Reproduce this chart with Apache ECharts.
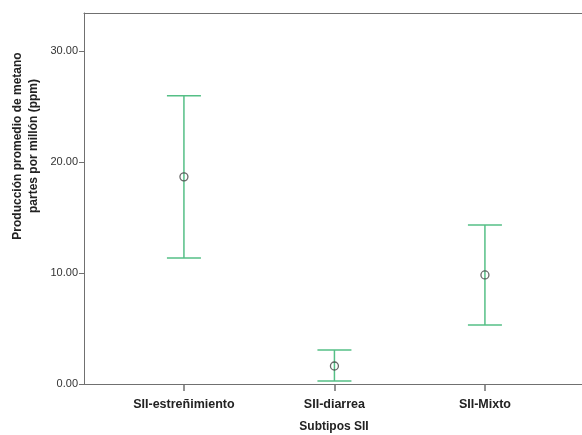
<!DOCTYPE html>
<html>
<head>
<meta charset="utf-8">
<script src="https://cdn.jsdelivr.net/npm/echarts@6/dist/echarts.min.js"></script>
<style>html,body{margin:0;padding:0;background:#fff}#c{width:582px;height:435px}</style>
</head>
<body>
<div id="c"></div>
<script>
var categories = ['SII-estreñimiento', 'SII-diarrea', 'SII-Mixto'];
var means = [18.65, 1.62, 9.82];
var lower = [11.35, 0.27, 5.32];
var upper = [25.95, 3.06, 14.32];
var yTicks = [0, 10, 20, 30];

var chart = echarts.init(document.getElementById('c'));
var idx = categories.map(function (_, i) { return i; });
var barData = idx.map(function (i) { return [i, lower[i], upper[i]]; });
var meanData = idx.map(function (i) { return [i, means[i]]; });
var green = '#55bf86';
var axisCol = '#707070';
var font = 'Liberation Sans, Arial, sans-serif';
var xMin = -0.664, xMax = 2.645;

chart.setOption({
  animation: false,
  grid: { left: 84, top: 13, right: 0, bottom: 51 },
  xAxis: [{
    type: 'value', min: xMin, max: xMax,
    splitLine: { show: false },
    axisLine: { show: true, onZero: false, lineStyle: { color: axisCol, width: 1 } },
    axisTick: { show: true, customValues: idx, length: 7, lineStyle: { color: axisCol, width: 1.5 } },
    axisLabel: {
      customValues: idx, margin: 14, color: '#222', fontWeight: 'bold', fontSize: 12.5, fontFamily: font,
      formatter: function (v) { return categories[Math.round(v)]; }
    }
  }, {
    type: 'value', position: 'top', min: xMin, max: xMax,
    splitLine: { show: false },
    axisLine: { show: true, onZero: false, lineStyle: { color: axisCol, width: 1 } },
    axisTick: { show: false }, axisLabel: { show: false }
  }],
  yAxis: {
    type: 'value', min: 0, max: 33.4,
    splitLine: { show: false },
    axisLine: { show: true, onZero: false, lineStyle: { color: axisCol, width: 1 } },
    axisTick: { show: true, customValues: yTicks, length: 5, lineStyle: { color: axisCol, width: 1 } },
    axisLabel: {
      customValues: yTicks, margin: 6, color: '#333', fontSize: 11, fontFamily: font,
      formatter: function (v) { return v.toFixed(2); }
    }
  },
  graphic: [
    {
      type: 'text', x: 26, y: 146, rotation: Math.PI / 2,
      style: {
        text: 'Producción promedio de metano\npartes por millón (ppm)',
        align: 'center', verticalAlign: 'middle', lineHeight: 16,
        font: 'bold 12px ' + font, fill: '#222'
      }
    },
    {
      type: 'text', x: 334, y: 427,
      style: { text: 'Subtipos SII', align: 'center', verticalAlign: 'middle', font: 'bold 12px ' + font, fill: '#222' }
    }
  ],
  series: [
    {
      type: 'custom',
      data: barData,
      renderItem: function (params, api) {
        var x = api.value(0);
        var lo = api.coord([x, api.value(1)]);
        var hi = api.coord([x, api.value(2)]);
        var w = 17;
        var st = { stroke: green, lineWidth: 1.5 };
        return {
          type: 'group',
          children: [
            { type: 'line', shape: { x1: lo[0], y1: lo[1], x2: hi[0], y2: hi[1] }, style: st },
            { type: 'line', shape: { x1: hi[0] - w, y1: hi[1], x2: hi[0] + w, y2: hi[1] }, style: st },
            { type: 'line', shape: { x1: lo[0] - w, y1: lo[1], x2: lo[0] + w, y2: lo[1] }, style: st }
          ]
        };
      },
      z: 2
    },
    {
      type: 'scatter',
      data: meanData,
      symbol: 'circle', symbolSize: 8,
      itemStyle: { color: 'rgba(255,255,255,0)', borderColor: '#444', borderWidth: 1.3 },
      z: 3
    }
  ]
});
</script>
</body>
</html>
